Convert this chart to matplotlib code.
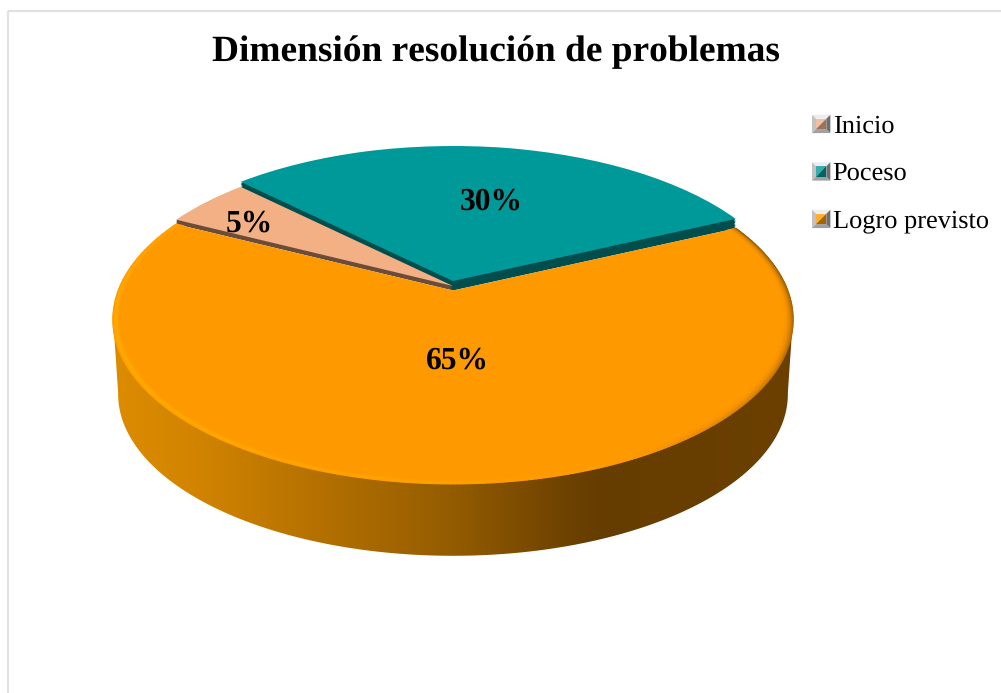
import numpy as np
import matplotlib
matplotlib.use("Agg")
import matplotlib.pyplot as plt
from matplotlib.collections import LineCollection
from matplotlib.colors import LinearSegmentedColormap, to_rgb
from matplotlib.legend_handler import HandlerBase
from matplotlib.patches import Polygon, Rectangle, Wedge, PathPatch
from matplotlib.path import Path
from matplotlib.transforms import Affine2D, Transform

categories = ["Inicio", "Poceso", "Logro previsto"]
values = [5, 30, 65]
title = "Dimensión resolución de problemas"

face_colors = ["#F3B084", "#009999", "#FF9900"]
edge_colors = ["#6B4C3B", "#004D4D", "#FF9900"]

plt.rcParams["font.family"] = ["Liberation Serif", "DejaVu Serif"]
plt.rcParams["text.hinting"] = "no_hinting"
plt.rcParams["text.hinting_factor"] = 8
plt.rcParams["text.kerning_factor"] = 6

CX, CY = 453.0, 290.5
A, B, K = 159.0, 334.6, 0.177
START = 152.0
WARP = np.radians(1.5)


class Perspective(Transform):
    input_dims = 2
    output_dims = 2
    is_affine = False

    def __init__(self, scale=1.0, drop=0.0):
        super().__init__()
        self.scale = scale
        self.drop = drop

    def transform_non_affine(self, pts):
        pts = np.asarray(pts, dtype=float)
        r = np.hypot(pts[:, 0], pts[:, 1])
        phi = np.arctan2(pts[:, 0], pts[:, 1])
        phi = phi + WARP * np.sin(2 * phi)
        u, v = r * np.sin(phi), r * np.cos(phi)
        w = 1 + K * v
        x = CX + self.scale * B * u / w
        y = CY + self.drop - self.scale * A * v / w
        return np.column_stack([x, y])


class BevelHandler(HandlerBase):
    # Handler units are points, at 100 dpi one point is 1.39 pixels
    def create_artists(self, legend, orig_handle, xdescent, ydescent,
                       width, height, fontsize, trans):
        s = 13.2
        x0, y0 = -xdescent, -ydescent + (height - s) / 2 - 0.5
        x1, y1 = x0 + s, y0 + s
        ix0, iy0, ix1, iy1 = x0 + 2.9, y0 + 2.9, x1 - 2.9, y1 - 2.9
        base = np.array(to_rgb(orig_handle.get_facecolor()))
        sides = [
            ([(x0, y1), (x1, y1), (ix1, iy1), (ix0, iy1)], "#EDEDED"),
            ([(x0, y0), (x0, y1), (ix0, iy1), (ix0, iy0)], "#C2C2C2"),
            ([(x0, y0), (x1, y0), (ix1, iy0), (ix0, iy0)], "#A0A0A0"),
            ([(x1, y0), (x1, y1), (ix1, iy1), (ix1, iy0)], "#6E6E6E"),
            ([(ix0, iy0), (ix0, iy1), (ix1, iy1)], tuple(0.8 * base + 0.2)),
            ([(ix0, iy0), (ix1, iy0), (ix1, iy1)], tuple(0.65 * base)),
        ]
        return [Polygon(p, closed=True, fc=c, ec="none", transform=trans) for p, c in sides]


fig = plt.figure(figsize=(10.01, 6.93), dpi=100, facecolor="white")
ax = fig.add_axes([0, 0, 1, 1])

top_wedges, _ = ax.pie(values, colors=face_colors, startangle=START, counterclock=False)

ax.set_aspect("auto")
ax.set_xlim(0, 1001)
ax.set_ylim(693, 0)
ax.axis("off")

base = Perspective()
shifts = [-4.5, -9.5, 0.0]
for w, s, z, edge in zip(top_wedges, shifts, [3, 2.5, 4], edge_colors):
    w.set_transform(base + Affine2D().translate(0, s) + ax.transData)
    w.set_zorder(z)
    # Inner walls of the back slices: the same wedge repeated from the floor up to its face
    for step in np.linspace(0, s, 8)[:-1] if s < 0 else []:
        wall = Wedge(w.center, w.r, w.theta1, w.theta2, fc=edge, ec="none",
                     transform=base + Affine2D().translate(0, step) + ax.transData,
                     zorder=z - 0.2)
        ax.add_patch(wall)

# Side wall, below the front of the disc
low = Perspective(scale=0.985, drop=75.0)
tang = np.degrees(np.arcsin(-K))
phi = np.radians(np.linspace(180 - tang, 360 + tang, 300))
ring = np.column_stack([np.cos(phi), np.sin(phi)])
outline = np.vstack([base.transform(ring), low.transform(ring)[::-1]])
wall_patch = PathPatch(Path(np.vstack([outline, outline[:1]]), closed=True),
                       fc="none", ec="none", transform=ax.transData)
ax.add_patch(wall_patch)
wall_cmap = LinearSegmentedColormap.from_list(
    "wall",
    [(0.0, "#DD8C00"), (0.12, "#D28400"), (0.28, "#B87300"), (0.5, "#945C00"),
     (0.68, "#6B4000"), (0.72, "#663D00"), (1.0, "#6B4000")],
)
grad = np.linspace(0, 1, 680)[None, :]
im = ax.imshow(grad, cmap=wall_cmap, extent=(112, 793, 570, 300), aspect="auto", zorder=1.5,
               interpolation="bilinear")
im.set_clip_path(wall_patch)
ax.set_xlim(0, 1001)
ax.set_ylim(693, 0)

# Bevel along the rim of the large slice
orange = np.array(to_rgb(face_colors[2]))
bright = np.array(to_rgb("#FFAC00"))
shade = np.array(to_rgb("#7A4A00"))
th1, th2 = top_wedges[2].theta1, top_wedges[2].theta2
ang = np.radians(np.linspace(th1, th2, 361))
for t in np.linspace(0, 1, 14):
    r = 1 - 0.03 * t
    pts = base.transform(np.column_stack([r * np.cos(ang), r * np.sin(ang)]))
    segs = np.stack([pts[:-1], pts[1:]], axis=1)
    mid = (ang[:-1] + ang[1:]) / 2
    light = -0.75 * np.cos(mid) - 0.35 * np.sin(mid)
    w_bright = np.clip(light * 1.1, 0, 1) * np.exp(-((t - 0.3) / 0.25) ** 2)
    w_shade = np.clip(-light, 0, 1) * (1 - t) ** 2.2
    cols = orange + w_bright[:, None] * (bright - orange) + w_shade[:, None] * (shade - orange)
    lc = LineCollection(segs, colors=np.clip(cols, 0, 1), linewidths=1.1, zorder=4.5,
                        capstyle="round")
    ax.add_collection(lc)

# Chart frame
ax.add_patch(Rectangle((8, 11), 1200, 900, fc="none", ec="#E0E0E0", lw=1.5, zorder=0.5))

ax.text(496, 52.5, title, ha="center", va="center", fontsize=26.9, fontweight="bold", color="black", zorder=6)

label_pos = [(249.5, 224), (491, 202), (457.5, 361)]
for val, (x, y) in zip(values, label_pos):
    ax.text(x, y, f"{val}%", ha="center", va="center", fontsize=22.7, fontweight="bold",
            color="black", zorder=6)

ax.legend(top_wedges, categories, handler_map={Wedge: BevelHandler()},
          loc="upper left", bbox_to_anchor=(812, 114), bbox_transform=ax.transData,
          frameon=False, fontsize=19, handlelength=0.68, handletextpad=0.1,
          labelspacing=0.89, borderpad=0, borderaxespad=0)

fig.savefig("out.png", dpi=100)
